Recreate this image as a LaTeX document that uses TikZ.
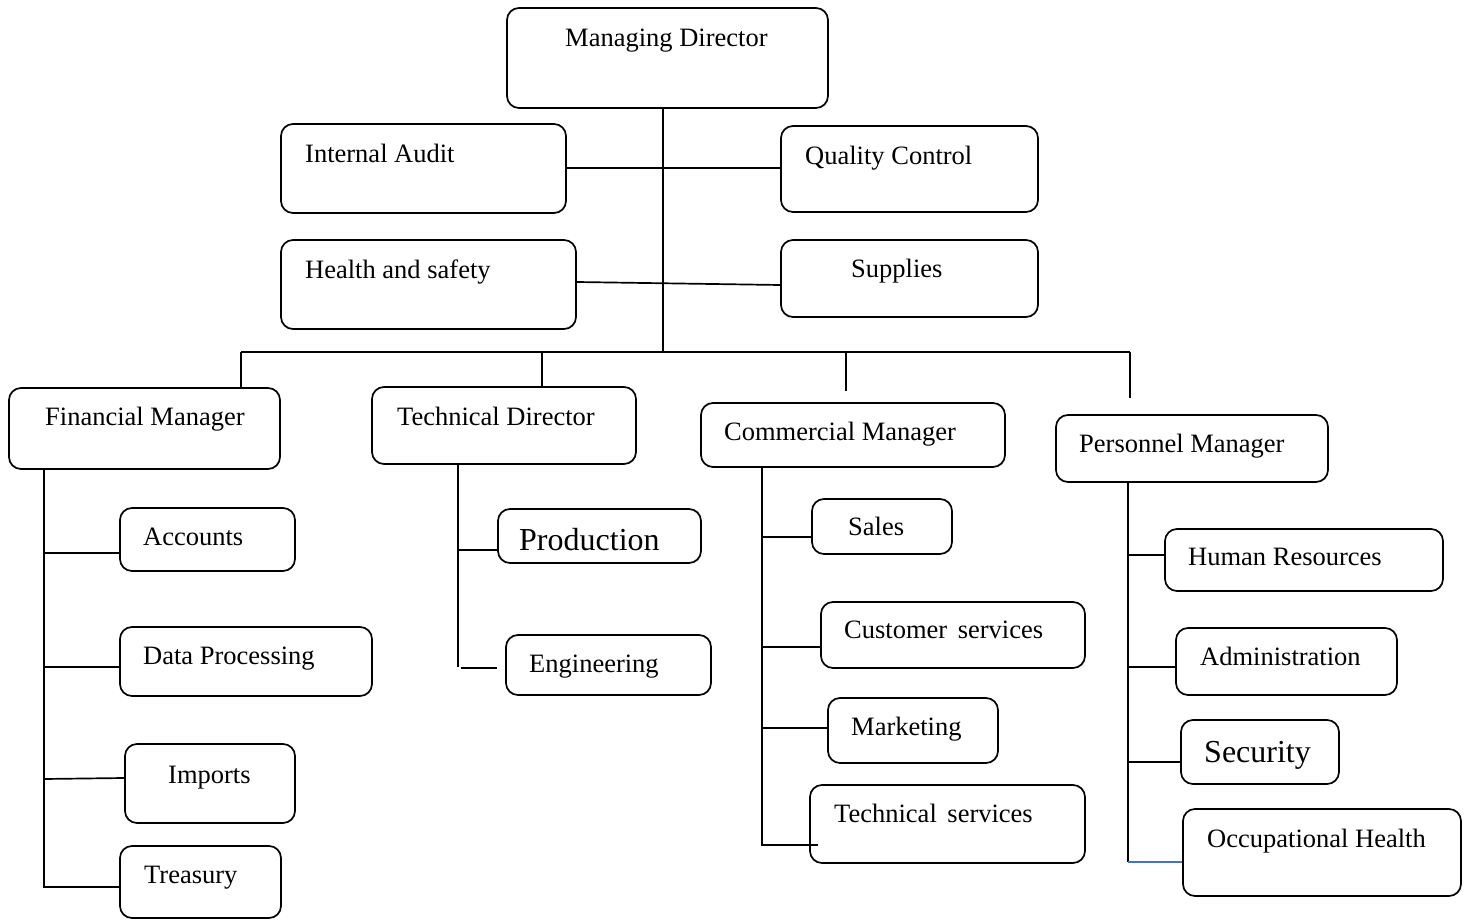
\documentclass[tikz,border=0pt]{standalone}
\usepackage{fontspec}
\setmainfont{Liberation Serif}
\usetikzlibrary{fit}
\definecolor{linkblue}{RGB}{68,114,196}
\begin{document}
\begin{tikzpicture}[x=1pt,y=-1pt,
  box/.style={draw, line width=1.7pt, rounded corners=12pt, inner sep=0pt, fill=white},
  txt/.style={anchor=base west, inner sep=0pt, font=\fontsize{26.5}{30}\selectfont},
  bigtxt/.style={anchor=base west, inner sep=0pt, font=\fontsize{32}{36}\selectfont},
  link/.style={line width=1.7pt}]
\useasboundingbox (0,0) rectangle (1468,920);

% ---- top level ----
\node[box, fit={(507,8)(828,108)}] (md) {};
\node[txt] (mdt) at (565,47) {Managing Director};
\node[box, fit={(281,124)(566,213)}] (ia) {};
\node[txt] (iat) at (305,163) {Internal Audit};
\node[box, fit={(781,126)(1038,212)}] (qc) {};
\node[txt] (qct) at (805,165) {Quality Control};
\node[box, fit={(281,240)(576,329)}] (hs) {};
\node[txt] (hst) at (305,279) {Health and safety};
\node[box, fit={(781,240)(1038,317)}] (sup) {};
\node[txt] (supt) at (851,277) {Supplies};

% ---- managers ----
\node[box, fit={(9,388)(280,469)}] (fm) {};
\node[txt] (fmt) at (45,425) {Financial Manager};
\node[box, fit={(372,387)(636,464)}] (td) {};
\node[txt] (tdt) at (397,425) {Technical Director};
\node[box, fit={(701,403)(1005,467)}] (cm) {};
\node[txt] (cmt) at (724,440) {Commercial Manager};
\node[box, fit={(1056,415)(1328,482)}] (pm) {};
\node[txt] (pmt) at (1079,452) {Personnel Manager};

% ---- finance ----
\node[box, fit={(120,508)(295,571)}] (acc) {};
\node[txt] (acct) at (143,545) {Accounts};
\node[box, fit={(120,627)(372,696)}] (dp) {};
\node[txt] (dpt) at (143,664) {Data Processing};
\node[box, fit={(125,744)(295,823)}] (imp) {};
\node[txt] (impt) at (168,783) {Imports};
\node[box, fit={(120,846)(281,918)}] (tre) {};
\node[txt] (tret) at (144,883) {Treasury};

% ---- technical ----
\node[box, fit={(498,509)(701,563)}] (prod) {};
\node[bigtxt] (prodt) at (519,550) {Production};
\node[box, fit={(506,635)(711,695)}] (eng) {};
\node[txt] (engt) at (529,672) {Engineering};

% ---- commercial ----
\node[box, fit={(812,499)(952,554)}] (sales) {};
\node[txt] (salest) at (848,535) {Sales};
\node[box, fit={(821,602)(1085,668)}] (cs) {};
\node[txt] (cst) at (844,638) {Customer\hspace{0.15em} services};
\node[box, fit={(828,698)(998,763)}] (mkt) {};
\node[txt] (mktt) at (851,735) {Marketing};
\node[box, fit={(810,785)(1085,863)}] (ts) {};
\node[txt] (tst) at (834,822) {Technical\hspace{0.15em} services};

% ---- personnel ----
\node[box, fit={(1165,529)(1443,591)}] (hr) {};
\node[txt] (hrt) at (1188,565) {Human Resources};
\node[box, fit={(1176,628)(1397,695)}] (adm) {};
\node[txt] (admt) at (1200,665) {Administration};
\node[box, fit={(1181,720)(1339,784)}] (sec) {};
\node[bigtxt] (sect) at (1204,762) {Security};
\node[box, fit={(1183,809)(1461,896)}] (oh) {};
\node[txt] (oht) at (1207,847) {Occupational Health};

% ---- reference coordinates for the spines ----
\coordinate (trunk) at (663,352);
\coordinate (fmx) at (44,0);
\coordinate (tdx) at (458,0);
\coordinate (cmx) at (762,0);
\coordinate (pmx) at (1128,0);
\coordinate (busL) at (241,352);
\coordinate (busR) at (1130,352);
\coordinate (tdb) at (542,352);
\coordinate (cmb) at (846,352);
\coordinate (cmend) at (846,391);
\coordinate (pmend) at (1130,398);

% ---- top connectors ----
\draw[link] (md.south -| trunk) -- (trunk);
\draw[link] (ia.east |- 0,168) -- (qc.west |- 0,168);
\draw[link] (hs.east |- 0,282) -- (sup.west |- 0,285);
\draw[link] (busL) -- (busR);
\draw[link] (busL) -- (busL |- fm.north);
\draw[link] (tdb) -- (tdb |- td.north);
\draw[link] (cmb) -- (cmend);
\draw[link] (busR) -- (pmend);

% ---- finance connectors ----
\draw[link] (fm.south -| fmx) -- (44,887) -- (tre.west |- 0,887);
\draw[link] (44,553) -- (acc.west |- 0,553);
\draw[link] (44,667) -- (dp.west |- 0,667);
\draw[link] (44,779) -- (imp.west |- 0,778);

% ---- technical connectors ----
\coordinate (engend) at (497,668);
\draw[link] (td.south -| tdx) -- (458,667);
\draw[link] (461,668) -- (engend);
\draw[link] (458,550) -- (prod.west |- 0,550);

% ---- commercial connectors ----
\coordinate (tsend) at (818,845);
\draw[link] (cm.south -| cmx) -- (762,845) -- (tsend);
\draw[link] (762,537) -- (sales.west |- 0,537);
\draw[link] (762,647) -- (cs.west |- 0,647);
\draw[link] (762,728) -- (mkt.west |- 0,728);

% ---- personnel connectors ----
\draw[link] (pm.south -| pmx) -- (1128,862);
\draw[link] (1128,555) -- (hr.west |- 0,555);
\draw[link] (1128,667) -- (adm.west |- 0,667);
\draw[link] (1128,762) -- (sec.west |- 0,762);
\draw[link, linkblue] (1128,862) -- (oh.west |- 0,862);
\end{tikzpicture}
\end{document}
